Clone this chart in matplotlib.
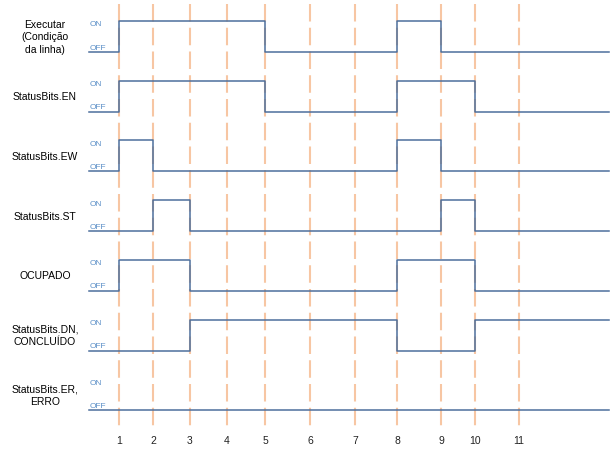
import matplotlib.pyplot as plt
import numpy as np

plt.rcParams['font.family'] = ['Liberation Sans', 'DejaVu Sans']

# event markers 1..11 and where they sit along the time axis
event_labels = ['1', '2', '3', '4', '5', '6', '7', '8', '9', '10', '11']
event_x = [119, 153, 190, 227, 265, 310, 355, 397, 441, 475, 519]
t_start = 89
t_end = 609

# signal names and their state in each interval (before 1, 1-2, ..., after 11)
signal_names = ['Executar\n(Condição\nda linha)', 'StatusBits.EN', 'StatusBits.EW',
                'StatusBits.ST', 'OCUPADO', 'StatusBits.DN,\nCONCLUÍDO',
                'StatusBits.ER,\nERRO']
executar = [0, 1, 1, 1, 1, 0, 0, 0, 1, 0, 0, 0]
en = [0, 1, 1, 1, 1, 0, 0, 0, 1, 1, 0, 0]
ew = [0, 1, 0, 0, 0, 0, 0, 0, 1, 0, 0, 0]
st = [0, 0, 1, 0, 0, 0, 0, 0, 0, 1, 0, 0]
ocupado = [0, 1, 1, 0, 0, 0, 0, 0, 1, 1, 0, 0]
dn = [0, 0, 0, 1, 1, 1, 1, 1, 0, 0, 1, 1]
er = [0] * 12
signals = [executar, en, ew, st, ocupado, dn, er]

fig = plt.figure(figsize=(6.13, 4.52), dpi=100)
ax = fig.add_axes([0, 0, 1, 1])
ax.set_xlim(0, 613)
ax.set_ylim(452, 0)
ax.axis('off')

# dashed event markers
for x, lab in zip(event_x, event_labels):
    ax.plot([x, x], [5, 430], color='#f7c6a3', lw=1.5, dashes=(8.4, 3), zorder=1)
    ax.text(x, 441, lab, ha='center', va='center', fontsize=7.5, color='#222222')

row_gap = 59.7
off0 = 53
swing = 31
edges = [t_start] + event_x + [t_end]

for i, (name, states) in enumerate(zip(signal_names, signals)):
    off_y = off0 + i * row_gap
    on_y = off_y - swing
    ys = [on_y if s else off_y for s in states]
    xs = np.array(edges)
    ax.step(xs, ys + [ys[-1]], where='post', color='#4d6f9c', lw=1.1, zorder=2)
    ax.text(90, on_y + 3, 'ON', fontsize=6, color='#5b8fc7', va='center', ha='left')
    ax.text(90, off_y - 5, 'OFF', fontsize=6, color='#5b8fc7', va='center', ha='left')
    ax.text(45, off_y - swing / 2, name, fontsize=7.5, ha='center', va='center',
            linespacing=1.3)

fig.savefig('out.png', dpi=100)
